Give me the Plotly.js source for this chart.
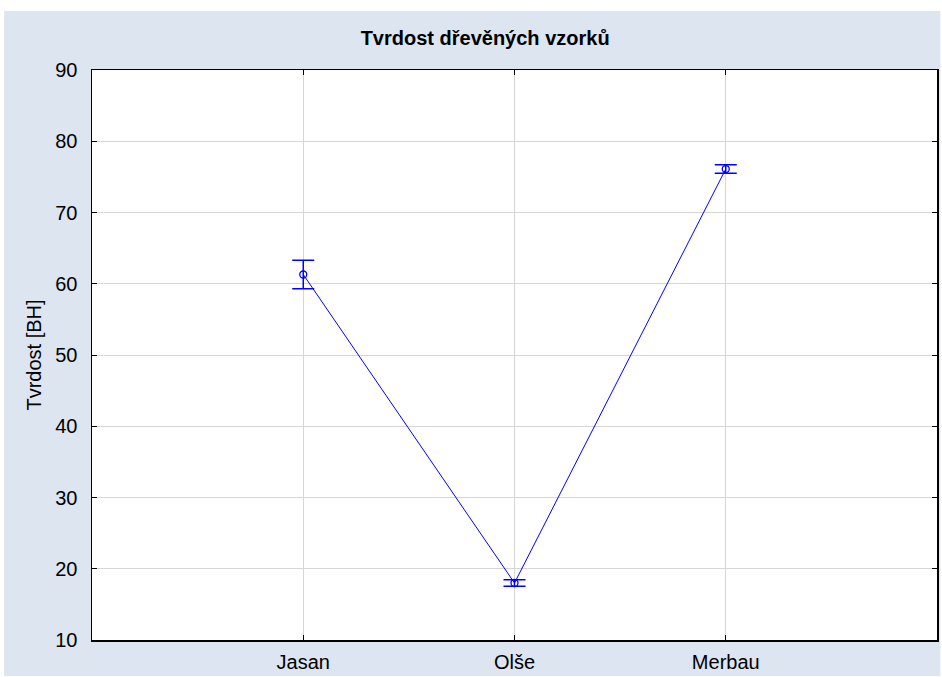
<!DOCTYPE html>
<html>
<head>
<meta charset="utf-8">
<script src="https://cdn.plot.ly/plotly-3.0.1.min.js"></script>
<style>html,body{margin:0;padding:0;background:#fff;}#chart{width:942px;height:677px;}</style>
</head>
<body>
<div id="chart"></div>
<script>
const categories = ["Jasan", "Olše", "Merbau"];
const means = [61.3, 18.0, 76.1];
const errors = [2.0, 0.45, 0.6];
const yTicks = [10, 20, 30, 40, 50, 60, 70, 80, 90];

const trace = {
  type: "scatter",
  mode: "lines+markers",
  x: [0, 1, 2],
  y: means,
  line: {color: "#0000ff", width: 1},
  marker: {symbol: "circle-open", size: 7, color: "#0000ff", line: {width: 1.3}},
  error_y: {type: "data", array: errors, visible: true, color: "#0000ff", thickness: 1.5, width: 11},
  hoverinfo: "skip"
};

const layout = {
  width: 942, height: 677,
  margin: {l: 92, r: 5, t: 70, b: 37},
  paper_bgcolor: "#ffffff",
  plot_bgcolor: "#ffffff",
  showlegend: false,
  font: {family: "Liberation Sans, Arial, sans-serif", color: "#000"},
  title: {text: "<b>Tvrdost dřevěných vzorků</b>", font: {size: 20, color: "#000"}, x: 0.515, xanchor: "center", y: 0.944, yanchor: "middle"},
  shapes: [
    {type: "rect", xref: "paper", yref: "paper", x0: -0.104, x1: 1.004, y0: -0.063, y1: 1.1035, fillcolor: "#dce5f0", line: {width: 0}, layer: "below"},
    {type: "rect", xref: "paper", yref: "paper", x0: 0, x1: 1, y0: 0, y1: 1, fillcolor: "#ffffff", line: {width: 0}, layer: "below"}
  ],
  xaxis: {
    range: [-1, 3],
    tickmode: "array", tickvals: [0, 1, 2], ticktext: categories,
    showgrid: true, gridcolor: "#d6d6d6", gridwidth: 1,
    showline: true, mirror: "ticks", linecolor: "#000", linewidth: 1.5,
    ticks: "inside", ticklen: 5, tickcolor: "#000",
    tickfont: {size: 20}, ticklabelstandoff: 3, zeroline: false, fixedrange: true
  },
  yaxis: {
    range: [10, 90],
    tickmode: "array", tickvals: yTicks, ticktext: yTicks.map(String),
    showgrid: true, gridcolor: "#d6d6d6", gridwidth: 1,
    showline: true, mirror: "ticks", linecolor: "#000", linewidth: 1.5,
    ticks: "inside", ticklen: 5, tickcolor: "#000",
    tickfont: {size: 20}, ticklabelstandoff: 9, zeroline: false, fixedrange: true,
    title: {text: "Tvrdost [BH]", font: {size: 20}, standoff: 8}
  }
};

Plotly.newPlot("chart", [trace], layout, {staticPlot: true, displayModeBar: false});
</script>
</body>
</html>
